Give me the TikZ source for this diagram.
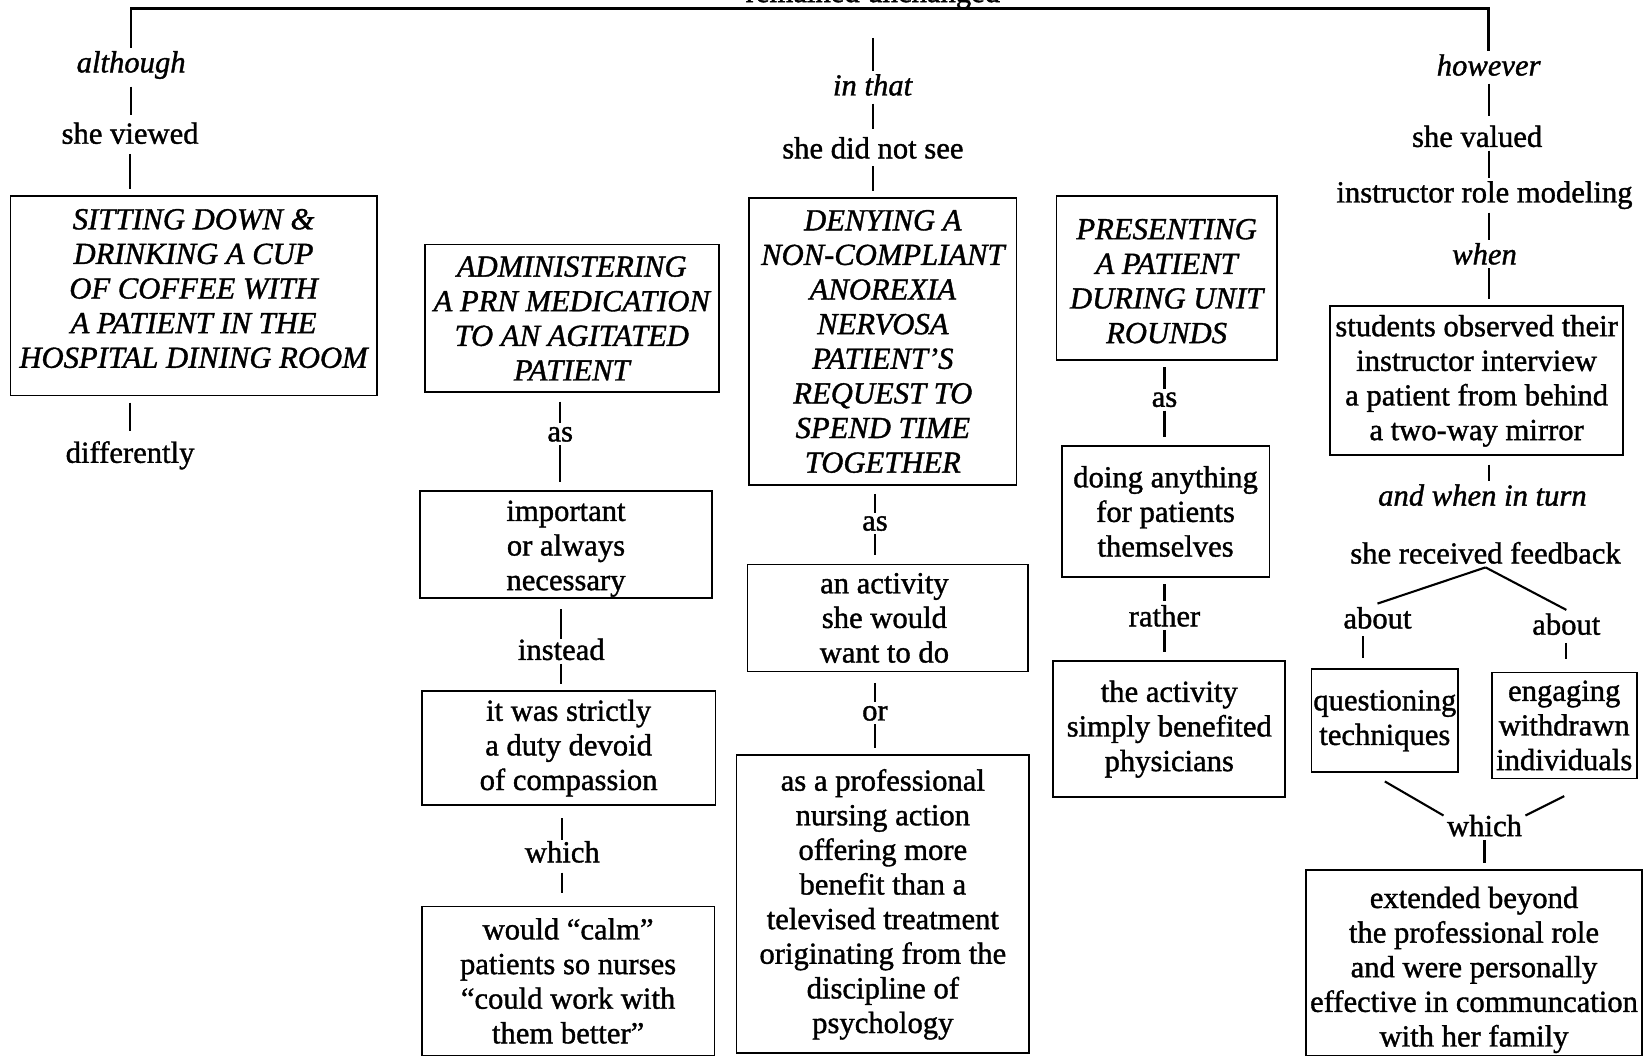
\documentclass[tikz,border=0pt]{standalone}
\usepackage{fontspec}
\setmainfont{Liberation Serif}[FakeBold=1.2]
\newcommand\chartfont{\fontsize{14.6pt}{16.5pt}\selectfont}
\tikzset{
  lbl/.style={inner sep=1.5pt, font=\chartfont},
  box/.style={draw, line width=0.85pt, inner sep=0pt, align=center, font=\chartfont},
  boxtxt/.style={inner sep=0pt, align=center, font=\chartfont},
  conn/.style={line width=1pt},
  topline/.style={line width=1.2pt},
}
\begin{document}
\begin{tikzpicture}[x=0.5pt, y=-0.5pt]
\useasboundingbox (0,0) rectangle (1568,1008);

% heading above the branches, cut by the top edge
\node[font=\chartfont, anchor=base, inner sep=0pt] (head) at (832,2) {remained unchanged};
\coordinate (top) at (832,8);
\coordinate (c3top) at (832,36);

% ---------- branch 1 ----------
\node[lbl] (a1) at (125,62) {\textit{although}};
\node[lbl] (a2) at (124,127) {she viewed};
\node[box, minimum width=174.5pt, minimum height=95pt,
  label={[boxtxt, yshift=3.5pt]center:{\itshape SITTING DOWN \&\\ \itshape DRINKING A CUP\\ \itshape OF COFFEE WITH\\ \itshape A PATIENT IN THE\\ \itshape HOSPITAL DINING ROOM}}]
  (b1) at (184.5,282) {};
\node[lbl] (a3) at (124,434) {differently};

% ---------- branch 2 ----------
\node[box, minimum width=140pt, minimum height=70.5pt] (b2) at (545,303.5)
  {\itshape ADMINISTERING\\ \itshape A PRN MEDICATION\\ \itshape TO AN AGITATED\\ \itshape PATIENT};
\node[lbl] (c1) at (534,414) {as};
\node[box, minimum width=139.5pt, minimum height=51pt,
  label={[boxtxt, yshift=-2pt]center:{important\\or always\\necessary}}]
  (b3) at (539.5,519) {};
\node[lbl] (c2) at (535,619) {instead};
\node[box, minimum width=140pt, minimum height=54pt] (b4) at (542,713)
  {it was strictly\\a duty devoid\\of compassion};
\node[lbl] (c3) at (536,812) {which};
\node[box, minimum width=139.5pt, minimum height=71pt] (b5) at (541.5,935)
  {would “calm”\\patients so nurses\\“could work with\\them better”};

% ---------- branch 3 ----------
\node[lbl] (it) at (832,81) {\textit{in that}};
\node[lbl] (sd) at (832,141) {she did not see};
\node[box, minimum width=127.5pt, minimum height=136.5pt] (b6) at (841.5,325.5)
  {\itshape DENYING A\\ \itshape NON-COMPLIANT\\ \itshape ANOREXIA\\ \itshape NERVOSA\\ \itshape PATIENT'S\\ \itshape REQUEST TO\\ \itshape SPEND TIME\\ \itshape TOGETHER};
\node[lbl] (c4) at (834,499) {as};
\node[box, minimum width=133.5pt, minimum height=51pt,
  label={[boxtxt, xshift=-1.5pt]center:{an activity\\she would\\want to do}}]
  (b7) at (846,589) {};
\node[lbl] (c5) at (834,680) {or};
\node[box, minimum width=139.5pt, minimum height=142pt] (b8) at (841.5,862)
  {as a professional\\nursing action\\offering more\\benefit than a\\televised treatment\\originating from the\\discipline of\\psychology};

% ---------- branch 4 ----------
\node[box, minimum width=105pt, minimum height=78pt,
  label={[boxtxt, yshift=-1.5pt]center:{\itshape PRESENTING\\ \itshape A PATIENT\\ \itshape DURING UNIT\\ \itshape ROUNDS}}]
  (b9) at (1112,265) {};
\node[lbl] (d1) at (1110,381) {as};
\node[box, minimum width=99pt, minimum height=62.5pt] (b10) at (1111,487.5)
  {doing anything\\for patients\\themselves};
\node[lbl] (d2) at (1110,587) {rather};
\node[box, minimum width=110.5pt, minimum height=65pt] (b11) at (1114.5,695)
  {the activity\\simply benefited\\physicians};

% ---------- branch 5 ----------
\node[lbl] (hw) at (1419,62) {\textit{however}};
\node[lbl] (e1) at (1408,130) {she valued};
\node[lbl] (e2) at (1415,186) {instructor role modeling};
\node[lbl] (e3) at (1415,242) {\textit{when}};
\node[box, minimum width=139.5pt, minimum height=71pt] (b12) at (1407.5,363)
  {students observed their\\instructor interview\\a patient from behind\\a two-way mirror};
\node[lbl] (e4) at (1413,472) {\textit{and when in turn}};
\node[lbl] (e5) at (1416,527) {she received feedback};
\node[lbl] (f1) at (1313,589) {about};
\node[lbl] (f2) at (1493,595) {about};
\node[box, minimum width=70pt, minimum height=49pt] (b13) at (1320,687)
  {questioning\\techniques};
\node[box, minimum width=69pt, minimum height=50.5pt] (b14) at (1491,691.5)
  {engaging\\withdrawn\\individuals};
\node[lbl] (g) at (1415,787) {which};
\node[box, minimum width=160pt, minimum height=88.5pt,
  label={[boxtxt, yshift=-3.5pt]center:{extended beyond\\the professional role\\and were personally\\effective in communcation\\with her family}}]
  (b15) at (1405,917.5) {};

% ---------- connectors ----------
\draw[topline] (a1.north) |- (top) -| (hw.north);

% branch 1
\draw[conn, shorten <=2pt, shorten >=2pt] (a1.south) -- (a1.south |- a2.north);
\draw[conn, shorten <=3pt, shorten >=3pt] (a2.south) -- (a2.south |- b1.north);
\draw[conn, shorten <=3pt, shorten >=3pt] (b1.south -| a3) -- (a3.north);

% branch 2
\draw[conn, shorten <=4pt] (b2.south -| c1) -- (c1.north);
\draw[conn, shorten >=4pt] (c1.south) -- (c1.south |- b3.north);
\draw[conn, shorten <=5pt, shorten >=-2pt] (b3.south -| c2) -- (c2.north);
\draw[conn, shorten >=3pt] (c2.south) -- (c2.south |- b4.north);
\draw[conn, shorten <=6pt, shorten >=-1pt] (b4.south -| c3) -- (c3.north);
\draw[conn, shorten >=6pt, shorten <=3pt] (c3.south) -- (c3.south |- b5.north);

% branch 3
\draw[conn] (c3top) -- (it.north);
\draw[conn, shorten <=2pt, shorten >=2pt] (it.south) -- (sd.north);
\draw[conn, shorten <=2pt, shorten >=3pt] (sd.south) -- (sd.south |- b6.north);
\draw[conn, shorten <=4pt] (b6.south -| c4) -- (c4.north);
\draw[conn, shorten >=4pt] (c4.south) -- (c4.south |- b7.north);
\draw[conn, shorten <=5pt] (b7.south -| c5) -- (c5.north);
\draw[conn, shorten >=3pt] (c5.south) -- (c5.south |- b8.north);

% branch 4
\draw[conn, shorten <=3pt] (b9.south -| d1) -- (d1.north);
\draw[conn, shorten >=4pt] (d1.south) -- (d1.south |- b10.north);
\draw[conn, shorten <=3pt] (b10.south -| d2) -- (d2.north);
\draw[conn, shorten >=4pt] (d2.south) -- (d2.south |- b11.north);

% branch 5
\draw[conn, shorten <=2pt, shorten >=3pt] (hw.south) -- (hw.south |- e1.north);
\draw[conn] (e1.south -| hw) -- (e2.north -| hw);
\draw[conn] (e2.south -| hw) -- (e3.north -| hw);
\draw[conn, shorten >=3pt] (e3.south -| hw) -- (b12.north -| hw);
\draw[conn, shorten <=4pt] (b12.south -| hw) -- (e4.north -| hw);
\draw[conn] (e5.south) -- (f1.north);
\draw[conn] (e5.south) -- (f2.north);
\draw[conn, shorten <=2pt, shorten >=5pt] ([xshift=-7pt]f1.south) -- ([xshift=-7pt]f1.south |- b13.north);
\draw[conn, shorten <=2pt, shorten >=6pt] (f2.south) -- (f2.south |- b14.north);
\draw[conn] ([yshift=-4pt]b13.south) -- ([yshift=-2pt]g.north west);
\draw[conn] ([yshift=-8pt]b14.south) -- ([yshift=-2pt]g.north east);
\draw[conn, shorten >=3pt] (g.south) -- (g.south |- b15.north);
\end{tikzpicture}
\end{document}
